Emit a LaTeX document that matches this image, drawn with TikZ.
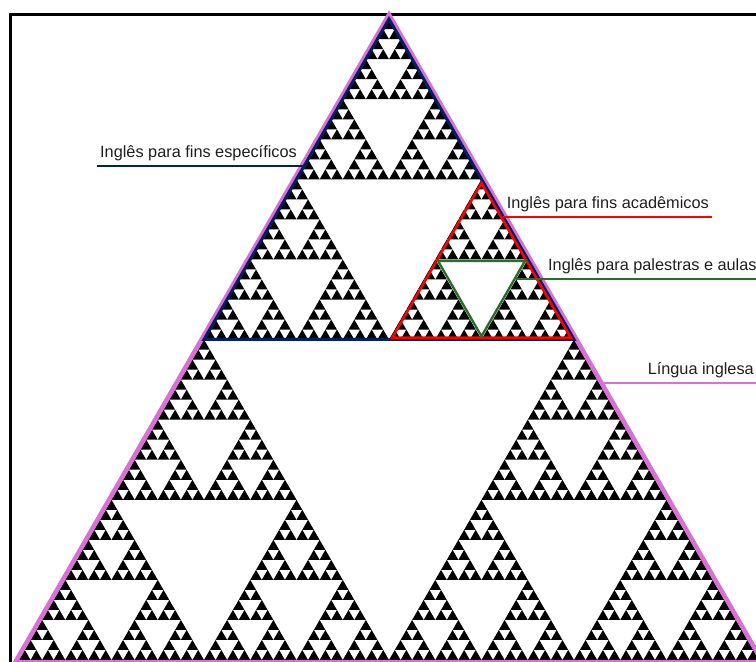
\documentclass[tikz,border=0pt]{standalone}
\usepackage{fontspec}
\setmainfont{Liberation Sans}
\usetikzlibrary{calc}

\definecolor{linguaPink}{RGB}{218,112,214}
\definecolor{fimNavy}{RGB}{0,32,96}
\definecolor{fimRed}{RGB}{255,0,0}
\definecolor{aulaGreen}{RGB}{40,110,40}

% gasket on the unit triangle, #1 = depth
\newcommand\sierp[1]{%
  \ifnum#1<1
    \fill (0,0) -- (1,0) -- (0.5,0.8660254) -- cycle;
  \else
    \begin{scope}[scale=0.5]\expandafter\sierp\expandafter{\the\numexpr#1-1\relax}\end{scope}
    \begin{scope}[shift={(0.5,0)},scale=0.5]\expandafter\sierp\expandafter{\the\numexpr#1-1\relax}\end{scope}
    \begin{scope}[shift={(0.25,0.4330127)},scale=0.5]\expandafter\sierp\expandafter{\the\numexpr#1-1\relax}\end{scope}
  \fi}

\begin{document}
\begin{tikzpicture}[x=1pt, y=1pt,
    lbl/.style={font=\fontsize{16.3}{19}\selectfont, text=black!88, inner xsep=3pt, inner ysep=0pt, text depth=8pt},
    uline/.style={line width=2pt}]
  \useasboundingbox (0,0) rectangle (756,662);
  \clip (0,0) rectangle (756,662);
  \fill[white] (0,0) rectangle (756,662);
  \draw[line width=3pt] (10.5,647.5) rectangle (800,-40);

  % corners
  \coordinate (L) at (19,2);
  \coordinate (R) at (759,2);
  \coordinate (A) at (389,643);
  \coordinate (mL) at ($(L)!0.5!(A)$);
  \coordinate (mR) at ($(R)!0.5!(A)$);
  \coordinate (rA) at ($(A)!0.5!(mR)$);
  \coordinate (rL) at ($(mL)!0.5!(mR)$);
  \coordinate (gL) at ($(rL)!0.5!(rA)$);
  \coordinate (gR) at ($(rA)!0.5!(mR)$);
  \coordinate (gB) at ($(rL)!0.5!(mR)$);
  \coordinate (cW) at ($1/3*(L)+1/3*(R)+1/3*(A)$);
  \coordinate (cR) at ($1/3*(rA)+1/3*(rL)+1/3*(mR)$);
  \coordinate (cG) at ($1/3*(gL)+1/3*(gR)+1/3*(gB)$);

  \begin{scope}[shift={(L)}, scale=740]
    \sierp{6}
  \end{scope}

  % outlines
  \draw[linguaPink, line width=4.5pt] ($(cW)!1.01!(L)$) -- ($(cW)!1.01!(R)$) -- ($(cW)!1.01!(A)$) -- cycle;
  \draw[fimNavy, line width=3pt] (mL) -- (mR) -- (A) -- cycle;
  \draw[fimRed, line width=2.5pt] ($(cR)!0.965!(rL)$) -- ($(cR)!0.965!(mR)$) -- ($(cR)!0.965!(rA)$) -- cycle;
  \draw[aulaGreen, line width=2.3pt] ($(cG)!0.94!(gL)$) -- ($(cG)!0.94!(gR)$) -- ($(cG)!0.94!(gB)$) -- cycle;

  % labels
  \coordinate (espEnd) at ($(A)!0.4587!(mL)$);
  \coordinate (acadStart) at ($(rA)!0.2356!(mR)$);
  \coordinate (palStart) at ($(gR)!0.245!(gB)$);
  \coordinate (linStart) at ($(A)!0.568!(R)$);

  \node[lbl, anchor=south west] (esp) at (97,496) {Inglês para fins específicos};
  \draw[fimNavy, uline] (esp.south west) -- (esp.south west -| espEnd);
  \node[lbl, anchor=south east] (acad) at (712,445) {Inglês para fins acadêmicos};
  \draw[fimRed, uline] (acad.south east) -- (acad.south east -| acadStart);
  \node[lbl, anchor=south west] (pal) at (545,383) {Inglês para palestras e aulas};
  \draw[aulaGreen, uline] (pal.south east) -- (pal.south east -| palStart);
  \node[lbl, anchor=south east] (lin) at (757,279) {Língua inglesa};
  \draw[linguaPink, uline] (lin.south east) -- (lin.south east -| linStart);
\end{tikzpicture}
\end{document}
